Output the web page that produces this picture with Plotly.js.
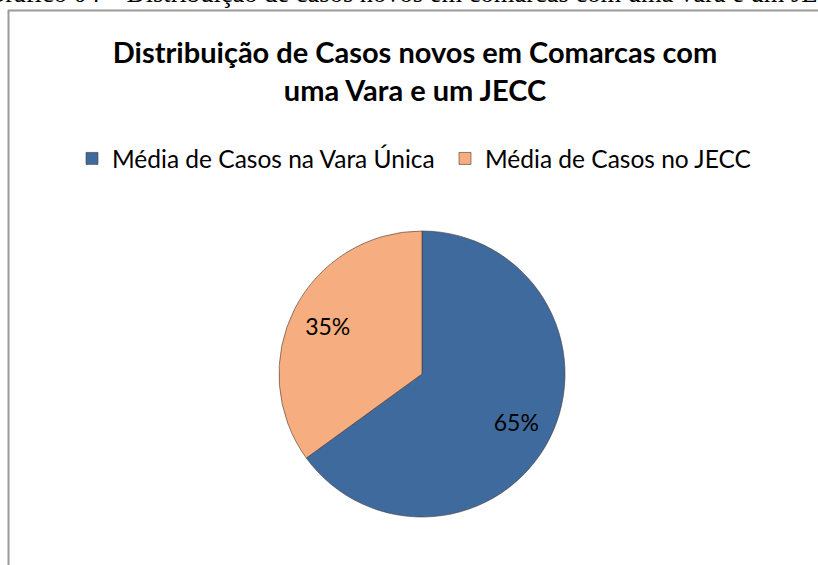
<!DOCTYPE html>
<html>
<head>
<meta charset="utf-8">
<script src="https://cdn.plot.ly/plotly-3.0.1.min.js"></script>
<style>html,body{margin:0;padding:0;background:#fff;}#chart{width:818px;height:565px;}</style>
</head>
<body>
<div id="chart"></div>
<script>
// Data
const categories = ["Média de Casos na Vara Única", "Média de Casos no JECC"];
const percentValues = [65, 35];
const sliceColors = ["#3f6a9e", "#f6ad7f"];
const chartTitle = "Distribuição de Casos novos em Comarcas com<br>uma Vara e um JECC";
const captionText = "Gráfico 04 – Distribuição de casos novos em comarcas com uma vara e um JECC";

const W = 818, H = 565;
const cx = 422, cy = 374, r = 143;
const pieDomain = {x: [(cx - r) / W, (cx + r) / W], y: [(H - cy - r) / H, (H - cy + r) / H]};

// filled slices (legend source)
const pieTrace = {
  type: "pie",
  labels: categories,
  values: percentValues,
  sort: false,
  direction: "clockwise",
  rotation: 0,
  textinfo: "none",
  marker: {colors: sliceColors, line: {color: "rgba(70,60,55,0.6)", width: 1}},
  domain: pieDomain,
  hoverinfo: "label+percent"
};
// percentage labels placed at ~0.74 r along each slice bisector
const labelTrace = {
  type: "pie",
  labels: categories,
  values: percentValues,
  sort: false,
  direction: "clockwise",
  rotation: 0,
  hole: 0.48,
  showlegend: false,
  textinfo: "percent",
  textposition: "inside",
  insidetextorientation: "horizontal",
  textfont: {family: "Lato, 'Open Sans', sans-serif", size: 23, color: "#000"},
  marker: {colors: ["rgba(0,0,0,0)", "rgba(0,0,0,0)"], line: {width: 0}},
  domain: pieDomain,
  hoverinfo: "skip"
};

const layout = {
  width: W, height: H,
  margin: {l: 0, r: 0, t: 0, b: 0},
  paper_bgcolor: "#ffffff",
  showlegend: true,
  title: {
    text: chartTitle,
    font: {family: "Lato, 'Open Sans', sans-serif", size: 29, color: "#000", weight: "bold"},
    x: 415 / W, xanchor: "center",
    y: 1 - 63 / H, yanchor: "top"
  },
  legend: {
    orientation: "h",
    x: 72 / W, xanchor: "left",
    y: 1 - 136 / H, yanchor: "top",
    bgcolor: "rgba(0,0,0,0)",
    font: {family: "Lato, 'Open Sans', sans-serif", size: 24.5, color: "#000"},
    entrywidth: 328,
    entrywidthmode: "pixels",
    itemclick: false
  },
  shapes: [
    {type: "line", xref: "paper", yref: "paper", x0: 8 / W, x1: 1, y0: 1 - 10.5 / H, y1: 1 - 10.5 / H, line: {color: "#9a9a9a", width: 2}},
    {type: "line", xref: "paper", yref: "paper", x0: 8.5 / W, x1: 8.5 / W, y0: 0, y1: 1 - 10 / H, line: {color: "#9a9a9a", width: 2}}
  ],
  annotations: [
    {text: captionText, xref: "paper", yref: "paper", x: -16 / W, xanchor: "left", y: 1 - 10 / H, yanchor: "bottom", showarrow: false,
     font: {family: "'Liberation Serif', 'Times New Roman', serif", size: 26.5, color: "#000"}}
  ]
};

Plotly.newPlot("chart", [pieTrace, labelTrace], layout, {displayModeBar: false});
</script>
</body>
</html>
